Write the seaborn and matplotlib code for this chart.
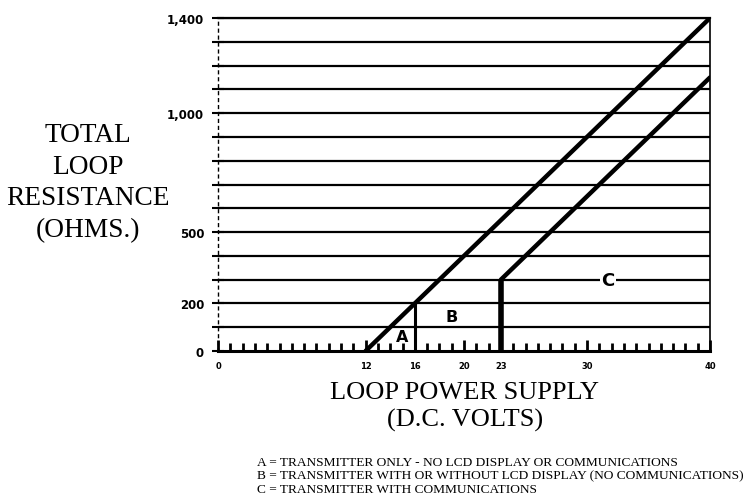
import matplotlib
matplotlib.use('Agg')
import matplotlib.pyplot as plt
import seaborn as sns
import pandas as pd
from matplotlib.ticker import FixedLocator, MultipleLocator

# operating limit lines (volts -> total loop ohms)
ab_volts = [12, 40]
ab_ohms = [0, 1400]
c_volts = [23, 40]
c_ohms = [300, 1150]

# vertical boundaries between the regions
bound_volts = [16, 23]
bound_ohms = [200, 300]
bound_widths = [2.2, 4.0]

y_ticks = list(range(0, 1500, 100))
y_labels = {0: '0', 200: '200', 500: '500', 1000: '1,000', 1400: '1,400'}
x_labels = {0: '0', 12: '12', 16: '16', 20: '20', 23: '23', 30: '30', 40: '40'}

region_names = ['A', 'B', 'C']
region_x = [15.0, 19.0, 31.7]
region_y = [63, 147, 298]

footnotes = [
    'A = TRANSMITTER ONLY - NO LCD DISPLAY OR COMMUNICATIONS',
    'B = TRANSMITTER WITH OR WITHOUT LCD DISPLAY (NO COMMUNICATIONS)',
    'C = TRANSMITTER WITH COMMUNICATIONS',
]

sns.set_theme(style='white')
plt.rcParams['text.color'] = 'black'
serif = ['Liberation Serif', 'DejaVu Serif']

fig = plt.figure(figsize=(7.44, 5.02), dpi=100)
ax = fig.add_axes([218 / 744, 150 / 502, 492 / 744, 333 / 502])

# horizontal resistance grid
for y in y_ticks[1:]:
    ax.axhline(y, color='black', lw=1.6, zorder=1)

lines = pd.concat([
    pd.DataFrame({'volts': ab_volts, 'ohms': ab_ohms, 'curve': 'AB'}),
    pd.DataFrame({'volts': c_volts, 'ohms': c_ohms, 'curve': 'C'}),
])
sns.lineplot(data=lines, x='volts', y='ohms', units='curve', estimator=None,
             color='black', lw=3.2, ax=ax, zorder=3)

for xv, yv, w in zip(bound_volts, bound_ohms, bound_widths):
    ax.vlines(xv, 0, yv, color='black', lw=w, zorder=3)

for name, xv, yv in zip(region_names, region_x, region_y):
    size = 13 if name == 'C' else 11.5
    bbox = dict(facecolor='white', edgecolor='none', pad=1) if name == 'C' else None
    ax.text(xv, yv, name, fontsize=size, fontweight='bold', ha='center', va='center',
            color='black', bbox=bbox, zorder=4)

ax.set_xlim(0, 40)
ax.set_ylim(0, 1400)

ax.yaxis.set_major_locator(FixedLocator(y_ticks))
ax.set_yticklabels([y_labels.get(t, '') for t in y_ticks])
ax.xaxis.set_major_locator(FixedLocator(list(x_labels)))
ax.set_xticklabels(list(x_labels.values()))
ax.xaxis.set_minor_locator(MultipleLocator(1))

ax.tick_params(axis='y', direction='inout', length=8, width=1.5, pad=6,
               labelsize=8.5, colors='black', left=True)
ax.tick_params(axis='x', which='both', direction='in', width=2, pad=7,
               labelsize=6, colors='black', bottom=True)
ax.tick_params(axis='x', which='major', length=8)
ax.tick_params(axis='x', which='minor', length=6)
for lab in ax.get_yticklabels() + ax.get_xticklabels():
    lab.set_fontweight('bold')

for side in ['left', 'right', 'top', 'bottom']:
    ax.spines[side].set_color('black')
ax.spines['left'].set_linewidth(1.0)
ax.spines['left'].set_linestyle((0, (2, 3)))
ax.spines['right'].set_linewidth(1.2)
ax.spines['top'].set_linewidth(1.6)
ax.spines['bottom'].set_linewidth(2.2)
ax.set_xlabel('')
ax.set_ylabel('')

fig.text(88 / 744, 1 - 183 / 502, 'TOTAL\nLOOP\nRESISTANCE\n(OHMS.)', family=serif,
         fontsize=19.7, ha='center', va='center', linespacing=1.36, color='black')
fig.text(465 / 744, 1 - 407 / 502, 'LOOP POWER SUPPLY\n(D.C. VOLTS)', family=serif,
         fontsize=19, ha='center', va='center', linespacing=1.3, color='black')

for i, note in enumerate(footnotes):
    fig.text(257 / 744, 1 - (463 + 13.5 * i) / 502, note, family=serif,
             fontsize=9.6, ha='left', va='center', color='black')

fig.savefig('out.png', dpi=100)
